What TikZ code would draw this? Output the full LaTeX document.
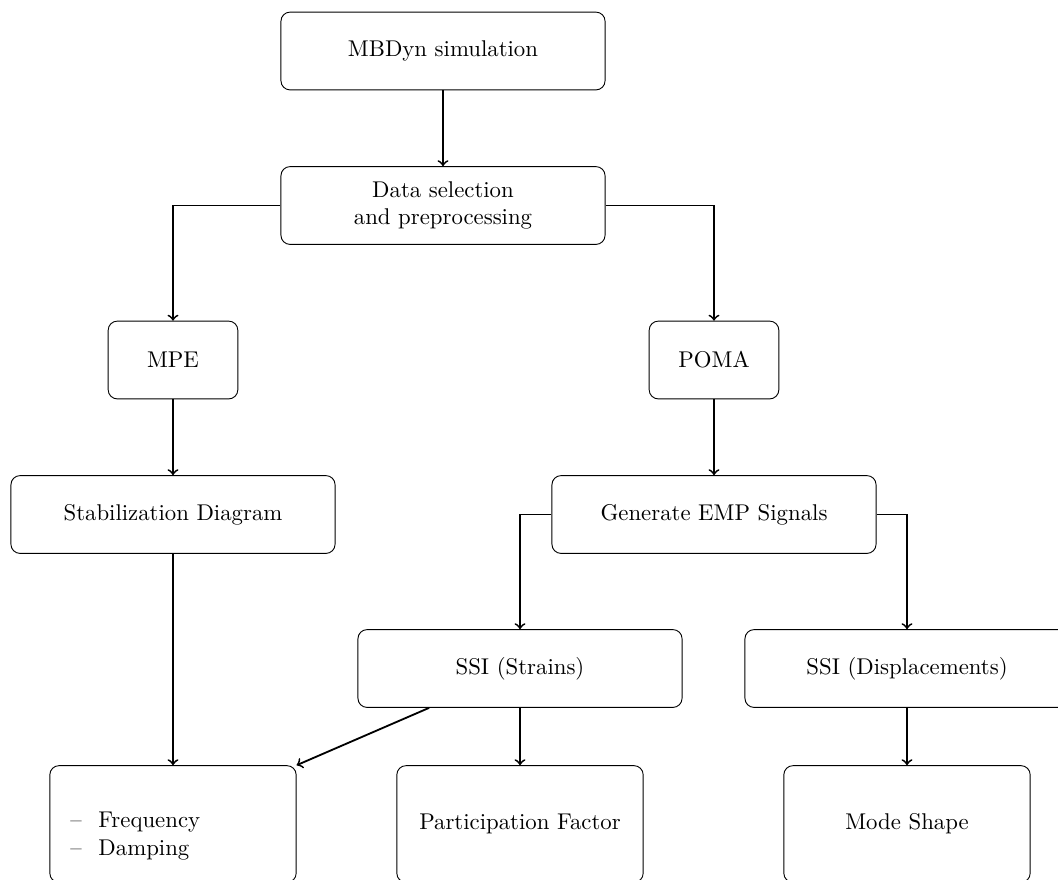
\documentclass[tikz,border=0pt]{standalone}
\usetikzlibrary{positioning}
\begin{document}
\begin{tikzpicture}[x=0.015432cm, y=-0.015432cm,
  box/.style={rectangle, rounded corners, draw=black, minimum width=5cm, minimum height=1.2cm, align=center, inner sep=0pt},
  smallbox/.style={box, minimum width=2cm},
  endbox/.style={box, minimum width=3.8cm, minimum height=1.8cm},
  arr/.style={thick, ->}]
\useasboundingbox (0,0) rectangle (1058,879);
\clip (0,0) rectangle (1058,879);
\node[box] (mb) at (443,51) {MBDyn simulation};
\node[box] (data) at (443,205.5) {Data selection\\and preprocessing};
\node[smallbox] (mpe) at (173,360) {MPE};
\node[smallbox] (poma) at (714,360) {POMA};
\node[box] (stab) at (173,514.5) {Stabilization Diagram};
\node[box] (gen) at (714,514.5) {Generate EMP Signals};
\node[box] (ssis) at (520,668.5) {SSI (Strains)};
\node[box] (ssid) at (907,668.5) {SSI (Displacements)};
\node[endbox] (freq) at (173,824) {};
\node[anchor=west, inner sep=0pt, align=left] (freqtext) at (70,836) {\textendash\hspace{7.3pt}Frequency\\\textendash\hspace{7.3pt}Damping};
\node[endbox] (part) at (520,824) {Participation Factor};
\node[endbox] (mode) at (907,824) {Mode Shape};
\draw[arr] (mb) -- (data);
\draw[arr] (data.west) -| (mpe.north);
\draw[arr] (data.east) -| (poma.north);
\draw[arr] (mpe) -- (stab);
\draw[arr] (poma) -- (gen);
\draw[arr] (gen.west) -| (ssis.north);
\draw[arr] (gen.east) -| (ssid.north);
\draw[arr] (stab) -- (freq);
\draw[arr] (ssis) -- (freq.north east);
\draw[arr] (ssis) -- (part);
\draw[arr] (ssid) -- (mode);
\end{tikzpicture}
\end{document}
